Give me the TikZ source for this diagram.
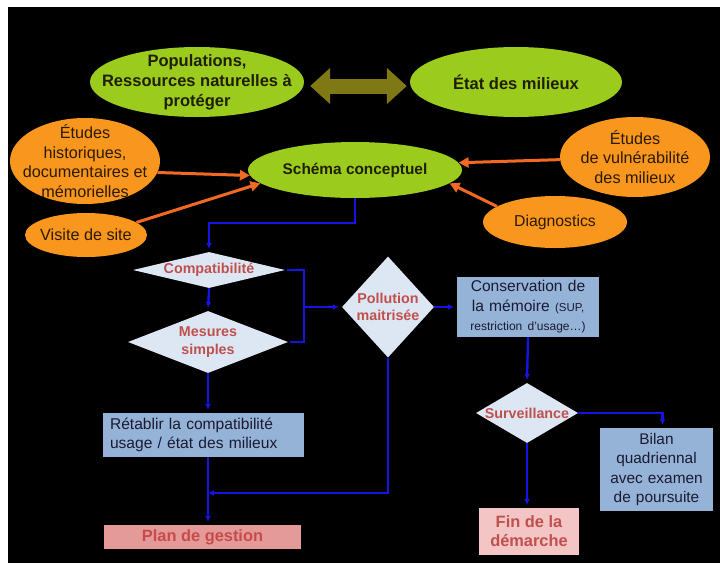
\documentclass[tikz,border=0pt]{standalone}
\usepackage{fontspec}
\setmainfont{Liberation Sans}
\usetikzlibrary{shapes.geometric,arrows.meta,calc}
\definecolor{lgreen}{HTML}{9BCB1C}
\definecolor{lorange}{HTML}{F8961D}
\definecolor{arrorange}{HTML}{F26923}
\definecolor{olivearr}{HTML}{807814}
\definecolor{flowblue}{HTML}{1414E6}
\definecolor{diafill}{HTML}{DDE7F3}
\definecolor{diatext}{HTML}{C0504D}
\definecolor{boxfill}{HTML}{95B3D7}
\definecolor{boxtext}{HTML}{1A1A33}
\definecolor{planfill}{HTML}{E39A98}
\definecolor{plantext}{HTML}{C84B4B}
\definecolor{finfill}{HTML}{F3C5C5}
\definecolor{darktext}{HTML}{1F1F00}
\definecolor{orangetext}{HTML}{2B1A00}
\tikzset{
  gell/.style={ellipse, fill=lgreen, inner sep=0pt},
  oell/.style={ellipse, fill=lorange, inner sep=0pt},
  diab/.style={diamond, fill=diafill, inner sep=0pt},
  gtxt/.style={font=\bfseries\fontsize{16.5}{20}\selectfont, align=center, text=darktext},
  otxt/.style={font=\fontsize{16.2}{19.5}\selectfont, align=center, text=orangetext},
  dtxt/.style={font=\bfseries\fontsize{14.3}{17.5}\selectfont, align=center, text=diatext},
  bluebox/.style={rectangle, fill=boxfill, inner sep=0pt, text=boxtext,
    font=\fontsize{15.6}{19.5}\selectfont},
  flow/.style={draw=flowblue, line width=2.3pt, shorten >=3pt, -{Latex[length=6pt,width=6pt]}},
  flowline/.style={draw=flowblue, line width=2.3pt},
  orarrow/.style={draw=arrorange, line width=3pt, -{Triangle[length=10pt,width=10pt]}},
}
\begin{document}
\begin{tikzpicture}[x=1pt,y=-1pt]
\useasboundingbox (0,0) rectangle (720,563);
\fill[white] (0,0) rectangle (720,563);
\fill[black] (8,7) rectangle (720,563);

% green ellipses
\node[gell, minimum width=214pt, minimum height=70pt,
  label={[gtxt]center:{Populations,\\Ressources naturelles à\\protéger}}] (pop) at (197,82) {};
\node[gell, minimum width=212pt, minimum height=70pt,
  label={[gtxt]center:{État des milieux}}] (etat) at (516,82) {};
\node[gell, minimum width=214pt, minimum height=56pt,
  label={[gtxt, font=\bfseries\fontsize{15.4}{19}\selectfont]center:{Schéma conceptuel}}] (schema) at (355,170) {};

% orange ellipses
\node[oell, minimum width=150pt, minimum height=86pt,
  label={[otxt]center:{Études\\historiques,\\documentaires et\\mémorielles}}] (hist) at (85,161) {};
\node[oell, minimum width=122pt, minimum height=44pt,
  label={[otxt]center:{Visite de site}}] (visite) at (86,235) {};
\node[oell, minimum width=150pt, minimum height=80pt,
  label={[otxt]center:{Études\\de vulnérabilité\\des milieux}}] (vuln) at (635,157) {};
\node[oell, minimum width=144pt, minimum height=52pt,
  label={[otxt, font=\fontsize{15.8}{19}\selectfont]center:{Diagnostics}}] (diag) at (555,222) {};

% olive double arrow
\draw[draw=olivearr, line width=15pt,
  {Triangle[length=20pt,width=35pt]}-{Triangle[length=20pt,width=35pt]}]
  ($(pop.east)+(6,4)$) -- ($(etat.west)+(-3,4)$);

% orange arrows
\draw[orarrow] (hist.-9) -- (schema.183);
\draw[orarrow] (visite.14) -- (schema.188);
\draw[orarrow] (vuln.182) -- (schema.4);
\draw[orarrow] (diag.165) -- (schema.-8);

% diamonds
\node[diab, minimum width=152pt, minimum height=36pt,
  label={[dtxt]center:{Compatibilité}}] (compat) at (209,270) {};
\node[diab, minimum width=160pt, minimum height=62pt,
  label={[dtxt]center:{Mesures\\simples}}] (mesures) at (208,342) {};
\node[diab, minimum width=92pt, minimum height=101pt,
  label={[dtxt]center:{Pollution\\maitrisée}}] (pollu) at (388,307) {};
\node[diab, minimum width=102pt, minimum height=60pt,
  label={[dtxt]center:{Surveillance}}] (surv) at (527,413) {};

% boxes
\node[bluebox, minimum width=201pt, minimum height=44pt, text width=187pt,
  inner xsep=7pt, align=left] (retab) at (203.5,435) {Rétablir la compatibilité\\usage / état des milieux};
\node[bluebox, minimum width=142pt, minimum height=60pt, text width=140pt, align=center]
  (conserv) at (528,307) {Conservation de\\la mémoire {\fontsize{11.5}{14}\selectfont(SUP,}\\{\fontsize{12}{14}\selectfont restriction d’usage…)}};
\node[bluebox, minimum width=113pt, minimum height=83pt, text width=111pt, align=center,
  font=\fontsize{15.4}{19.3}\selectfont]
  (bilan) at (656.5,469.5) {Bilan\\quadriennal\\avec examen\\de poursuite};
\node[rectangle, fill=planfill, inner sep=0pt, minimum width=197pt, minimum height=24pt,
  text=plantext, font=\bfseries\fontsize{16.4}{19}\selectfont] (plan) at (202.5,537) {Plan de gestion};
\node[rectangle, fill=finfill, inner sep=0pt, minimum width=100pt, minimum height=47pt,
  text=diatext, align=center, font=\bfseries\fontsize{16.4}{19}\selectfont] (fin) at (529,531.5) {Fin de la\\démarche};

% blue flow connectors
\coordinate (brk) at (304,307);
\coordinate (join) at (208,493);
\draw[flow] (schema.south) -- ++(0,25) -| (compat.north);
\draw[flow] (compat.south) -- (mesures.north);
\draw[flowline] ($(compat.east)+(2,0)$) -| (brk) |- ($(mesures.east)+(2,0)$);
\draw[flow] (brk) -- (pollu.west);
\draw[flow] (mesures.south) -- (mesures.south |- retab.north);
\draw[flow] (mesures.south |- retab.south) -- (mesures.south |- plan.north);
\draw[flow, shorten >=0pt] (pollu.south) |- (join);
\draw[flow] (pollu.east) -- (conserv.west);
\draw[flow] (conserv.south) -- (surv.north);
\draw[flow] (surv.east) -| ($(bilan.north)+(6,0)$);
\draw[flow] (surv.south) -- (surv.south |- fin.north);
\end{tikzpicture}
\end{document}
